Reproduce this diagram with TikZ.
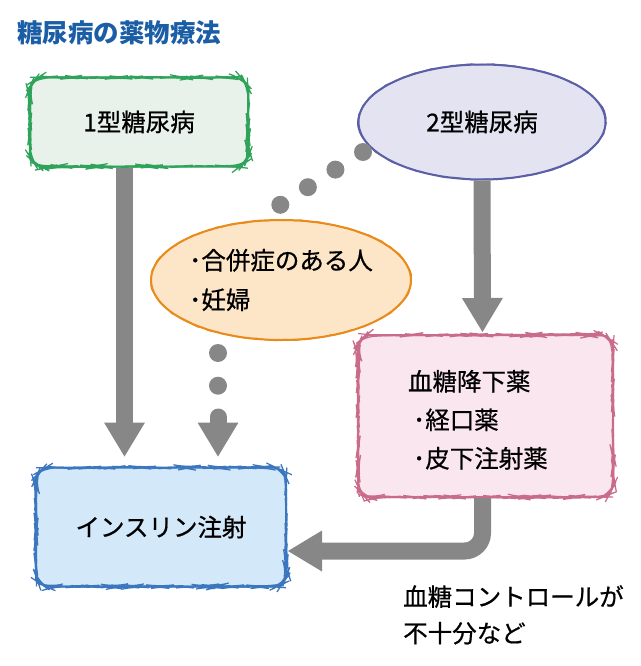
\documentclass[tikz,border=0pt]{standalone}
\usepackage{fontspec}
\setmainfont{Noto Sans CJK JP}
\newfontfamily\medfont{Noto Sans CJK JP}[FakeBold=0.6]
\usetikzlibrary{shapes.geometric,arrows.meta,decorations.pathmorphing,calc}
\definecolor{titleblue}{HTML}{1B5EA6}
\definecolor{grnB}{HTML}{2FA35A}
\definecolor{grnF}{HTML}{E8F1EA}
\definecolor{lavB}{HTML}{5B5FA6}
\definecolor{lavF}{HTML}{E3E3F2}
\definecolor{orgB}{HTML}{E98B1A}
\definecolor{orgF}{HTML}{FDE6C8}
\definecolor{pnkB}{HTML}{C96C8A}
\definecolor{pnkF}{HTML}{FAE6EF}
\definecolor{bluB}{HTML}{3B76BF}
\definecolor{bluF}{HTML}{D3E8F8}
\definecolor{arrgray}{HTML}{878787}
\begin{document}
\begin{tikzpicture}[x=1pt,y=-1pt,
  every node/.style={font=\medfont\fontsize{24.5}{38.5}\selectfont, text=black, inner sep=0pt},
  sketch/.style 2 args={fill=#2, draw=#1, line width=2pt,
    postaction={draw=#1, line width=1.2pt, decorate,
      decoration={random steps, segment length=5pt, amplitude=0.7pt}}},
  roundbox/.style={rectangle, rounded corners=14pt},
  tiptri/.style={-{Triangle[width=41pt,length=34pt,line width=0pt]}},
  fatarrow/.style={draw=arrgray, line width=17pt, tiptri},
  dotline/.style={draw=arrgray, line width=18pt, line cap=round,
    dash pattern=on 0pt off 32.7pt}]
\useasboundingbox (0,0) rectangle (640,666);

\node[anchor=west, text=titleblue, font=\fontsize{25.5}{28}\selectfont\bfseries] (title) at (17,33) {糖尿病の薬物療法};

\node[roundbox, sketch={grnB}{grnF}, minimum width=218pt, minimum height=89pt] (t1) at (139,122) {1型糖尿病};
\node[ellipse, sketch={lavB}{lavF}, minimum width=247pt, minimum height=115pt] (t2) at (482,122) {2型糖尿病};
\node[ellipse, sketch={orgB}{orgF}, minimum width=250pt, minimum height=120pt, align=left, font=\medfont\fontsize{24.5}{39.5}\selectfont] (sp) at (281,280) {･合併症のある人\\･妊婦};
\node[roundbox, sketch={pnkB}{pnkF}, minimum width=255pt, minimum height=162pt] (hg) at (485.5,416)
  {\parbox[c][162pt][t]{155pt}{\raggedright\vspace*{35pt}血糖降下薬\\\hspace*{5pt}･経口薬\\\hspace*{5pt}･皮下注射薬}};
\node[roundbox, sketch={bluB}{bluF}, minimum width=250pt, minimum height=119pt] (ins) at (161,527) {インスリン注射};
\node[anchor=north west, align=left, font=\medfont\fontsize{24.5}{36.5}\selectfont] (note) at (403,585) {血糖コントロールが\\不十分など};

% solid arrows
\draw[fatarrow] ([xshift=-14.5pt]t1.south) -- ([xshift=-36.5pt,yshift=10pt]ins.north);
\draw[fatarrow] (t2.south) -- ([xshift=-3pt,yshift=2pt]hg.north);
\draw[fatarrow, rounded corners=18pt] ([xshift=-3pt]hg.south) |- ($(ins.east)+(1,24)$);

% dotted connectors
\coordinate (da) at (363,152);
\coordinate (db) at (280,205);
\draw[dotline] (da) -- (db);
\coordinate (dc) at (218,417);
\draw[dotline] ([xshift=-63pt,yshift=-12pt]sp.south) -- (dc);
\draw[fatarrow, line cap=round] (dc) -- ([xshift=57pt,yshift=10pt]ins.north);
\end{tikzpicture}
\end{document}
